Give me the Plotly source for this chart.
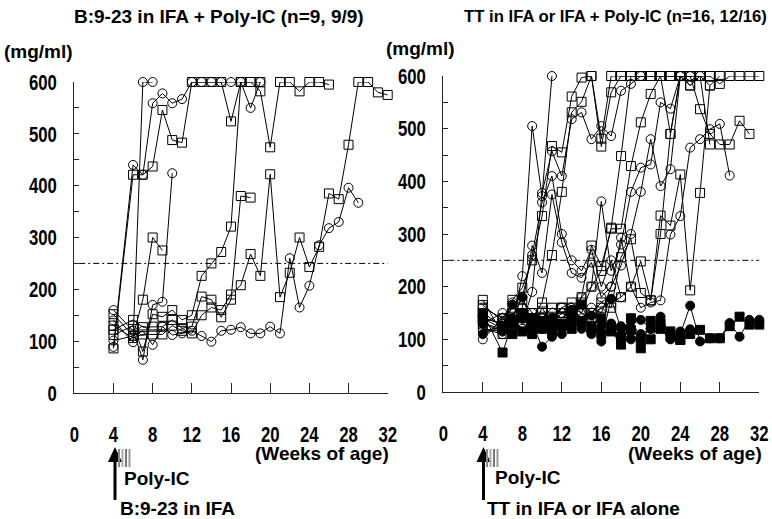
import plotly.graph_objects as go

W, H = 772, 519

weeks = [4, 6, 7, 8, 9, 10, 11, 12, 13, 14, 15, 16, 17, 18, 19, 20, 21, 22, 23, 24, 25, 26, 27, 28, 29, 30, 31, 32]
x_ticks = [0, 4, 8, 12, 16, 20, 24, 28, 32]
y_ticks = [0, 100, 200, 300, 400, 500, 600]
threshold = 250

# Left panel: B:9-23 in IFA + Poly-IC (9 mice)
left_m1 = [140, 98, 600, 600]
left_m2 = [89, 440, 421, 559, 578, 559, 567, 600, 600, 600, 600, 600, 600, 550, 600]
left_m3 = [86, 421, 421, 437, 546, 488, 483, 600, 600, 600, 600, 524, 600, 600, 600]
left_m4 = [152, 110, 180, 300, 275]
left_m5 = [160, 120, 64, 170, 176, 424]
left_m6 = [112, 130, 80, 152, 147, 160, 141, 150, 226, 250, 272, 321, 600, 600, 582, 474, 600, 600, 582, 600, 600, 595]
left_m7 = [122, 141, 127, 128, 128, 141, 125, 128, 186, 180, 146, 180, 380, 377]
left_m8 = [130, 106, 113, 113, 113, 130, 120, 115, 150, 165, 160, 190, 208, 268, 226, 422, 185, 232, 300, 243, 282, 385, 374, 479, 600, 600, 580, 575]
left_m9 = [101, 110, 120, 93, 128, 112, 115, 120, 110, 99, 120, 122, 127, 115, 115, 128, 115, 260, 165, 207, 285, 318, 330, 396, 367]
left_symbols = ["circle-open", "circle-open", "square-open", "square-open", "circle-open",
                "square-open", "square-open", "square-open", "circle-open"]

# Right panel: TT in IFA or IFA + Poly-IC (16 mice)
right_m1 = [150, 125, 175, 198, 250, 334, 467, 455, 561, 597, 600, 481, 600, 600, 600, 600, 600, 600, 600, 600, 600, 600, 600, 585, 600, 600, 600, 600]
right_m2 = [130, 120, 130, 150, 140, 170, 260, 380, 531, 551, 600, 466, 569, 600, 600, 600, 600, 600, 600, 600, 582, 600, 582]
right_m3 = [120, 110, 130, 220, 505, 372, 600]
right_m4 = [115, 125, 150, 130, 190, 378, 457, 410, 518, 531, 480, 505, 486, 572, 585, 600]
right_m5 = [140, 130, 120, 160, 278, 226, 375, 284, 226, 217, 246, 180, 200, 293, 200, 160, 170, 174, 299, 334, 464, 480, 499, 509, 411]
right_m6 = [175, 110, 130, 150, 120, 160, 130, 160, 150, 180, 278, 239, 310, 310, 429, 512, 566, 600, 490, 600, 600, 537, 490, 470, 470, 515, 490]
right_m7 = [160, 140, 120, 140, 130, 150, 140, 160, 170, 150, 200, 230, 312, 448, 600, 600, 600, 600, 600, 600, 582, 600, 600]
right_m8 = [100, 140, 170, 140, 150, 120, 140, 160, 150, 180, 200, 362, 230, 280, 380, 426, 432, 550, 538, 600, 600, 600]
right_m9 = [130, 150, 140, 120, 130, 140, 130, 150, 160, 140, 160, 150, 200, 240, 300, 380, 480, 391, 423, 600, 600]
right_m10 = [140, 130, 150, 130, 120, 130, 150, 140, 160, 150, 140, 160, 170, 180, 200, 248, 174, 335, 316, 413, 193, 378, 582, 600]
right_m11 = [165, 135, 160, 175, 150, 140, 160, 150, 140, 170, 150, 170, 160, 256, 290, 188, 174, 300, 490, 600, 600, 600, 470]
right_m12 = [120, 115, 140, 180, 260, 360, 410, 300, 250, 230, 270, 200, 250, 180]
right_m13 = [110, 125, 140, 180, 130, 86, 105, 120, 156, 130, 145, 96, 177, 120, 135, 137, 120, 143, 100, 110, 164, 96, 102, 102, 131, 105, 137, 137]
right_m14 = [150, 75, 130, 115, 140, 120, 125, 130, 140, 166, 120, 110, 115, 90, 118, 83, 135, 120, 105, 99, 110, 118, 102, 102, 125, 143, 128, 128]
right_m15 = [130, 115, 166, 140, 120, 125, 140, 110, 130, 120, 110, 125, 130, 125, 100, 110, 120, 125, 110, 115, 119]
right_m16 = [140, 120, 110, 150, 110, 135, 115, 125, 120, 135, 125, 140, 120, 105, 140, 100, 100, 130, 115, 99]
right_symbols = ["square-open", "square-open", "circle-open", "circle-open", "circle-open", "square-open",
                 "square-open", "circle-open", "circle-open", "square-open", "square-open", "circle-open",
                 "circle", "square", "circle", "square"]

left_series = [left_m1, left_m2, left_m3, left_m4, left_m5, left_m6, left_m7, left_m8, left_m9]
right_series = [right_m1, right_m2, right_m3, right_m4, right_m5, right_m6, right_m7, right_m8,
                right_m9, right_m10, right_m11, right_m12, right_m13, right_m14, right_m15, right_m16]

fig = go.Figure()


def add_series(vals, sym, xa, ya):
    fig.add_trace(go.Scatter(
        x=weeks[:len(vals)], y=vals, mode="lines+markers", xaxis=xa, yaxis=ya,
        line=dict(color="black", width=1),
        marker=dict(symbol=sym, size=9, color="black", line=dict(color="black", width=1)),
        cliponaxis=False, showlegend=False, hoverinfo="skip"))


for vals, sym in zip(left_series, left_symbols):
    add_series(vals, sym, "x", "y")
for vals, sym in zip(right_series, right_symbols):
    add_series(vals, sym, "x2", "y2")

# threshold lines
for xa, ya in (("x", "y"), ("x2", "y2")):
    fig.add_trace(go.Scatter(x=[0.5, 32], y=[threshold, threshold], mode="lines", xaxis=xa, yaxis=ya,
                             line=dict(color="black", width=1, dash="6px,3px,2px,3px"),
                             showlegend=False, hoverinfo="skip"))


def px(x):
    return x / W


def py(y):
    return 1 - y / H


tick_font = dict(family="Liberation Sans, Arial, sans-serif", size=22, color="black", weight="bold")
lab_font = dict(family="Liberation Sans, Arial, sans-serif", size=19, color="black", weight="bold")

xcommon = dict(range=[0, 32], tickvals=x_ticks, ticktext=[str(t) for t in x_ticks], ticks="inside",
               ticklen=10, tickcolor="#222", showline=True, linecolor="#222", linewidth=1,
               showgrid=False, zeroline=False, tickfont=tick_font, ticklabelstandoff=22, automargin=False)
ycommon = dict(range=[0, 600], tickvals=y_ticks, ticks="inside", ticklen=5, tickcolor="#222",
               showline=True, linecolor="#222", linewidth=1, showgrid=False, zeroline=False,
               tickfont=tick_font, ticklabelstandoff=12, automargin=False,
               minor=dict(dtick=50, ticks="inside", ticklen=5, tickcolor="#222"))

fig.update_layout(
    width=W, height=H, margin=dict(l=0, r=0, t=0, b=0, autoexpand=False),
    paper_bgcolor="white", plot_bgcolor="white",
    xaxis=dict(domain=[px(74.3), px(387.7)], anchor="y", **xcommon),
    yaxis=dict(domain=[py(393), py(82)], anchor="x", **ycommon),
    xaxis2=dict(domain=[px(443.3), px(759.3)], anchor="y2", **xcommon),
    yaxis2=dict(domain=[py(392), py(76)], anchor="x2", **ycommon),
)

annots = [
    ("B:9-23 in IFA + Poly-IC (n=9, 9/9)", 72, 17, "left", 19),
    ("TT in IFA or IFA + Poly-IC (n=16, 12/16)", 462, 17, "left", 16.7),
    ("(mg/ml)", 2, 51, "left", 19),
    ("(mg/ml)", 384, 49, "left", 19),
    ("(Weeks of age)", 391, 453, "right", 19),
    ("(Weeks of age)", 764, 453, "right", 19),
    ("Poly-IC", 122, 478, "left", 19),
    ("B:9-23 in IFA", 118, 508, "left", 19),
    ("Poly-IC", 493, 477, "left", 19),
    ("TT in IFA or IFA alone", 485, 508, "left", 19),
]
for text, x, y, anc, sz in annots:
    fig.add_annotation(text=text, x=px(x), y=py(y), xref="paper", yref="paper",
                       xanchor=anc, yanchor="middle", showarrow=False, font=dict(lab_font, size=sz))

# arrows and Poly-IC injection marks
for ax_x, gx in ((115, 118), (483.5, 486)):
    fig.add_shape(type="line", xref="paper", yref="paper", x0=px(ax_x), x1=px(ax_x), y0=py(500), y1=py(460),
                  line=dict(color="black", width=3))
    fig.add_shape(type="path", xref="paper", yref="paper",
                  path=f"M {px(ax_x-7)} {py(462)} L {px(ax_x+7)} {py(462)} L {px(ax_x)} {py(447)} Z",
                  fillcolor="black", line=dict(color="black", width=0))
    for i, c in enumerate(["#888", "#aaa", "#777", "#999"]):
        x0 = gx + i * 3.5
        fig.add_shape(type="rect", xref="paper", yref="paper", x0=px(x0), x1=px(x0 + 2),
                      y0=py(467), y1=py(449), fillcolor=c, line=dict(width=0))

# remove the page margin and condense the bold tick digits (reference uses a narrow bold face)
post_js = """
document.body.style.margin = '0';
document.body.style.padding = '0';
var gd = document.getElementById('{plot_id}');
function squeezeTicks(){
  gd.querySelectorAll('.xtick text, .ytick text, .x2tick text, .y2tick text').forEach(function(t){
    if (t.getAttribute('lengthAdjust')) return;
    var w = t.getComputedTextLength();
    t.setAttribute('textLength', (w * 0.76).toFixed(2));
    t.setAttribute('lengthAdjust', 'spacingAndGlyphs');
  });
}
squeezeTicks();
gd.on('plotly_afterplot', squeezeTicks);
"""

fig.write_html("out.html", post_script=post_js, config={"displayModeBar": False})
